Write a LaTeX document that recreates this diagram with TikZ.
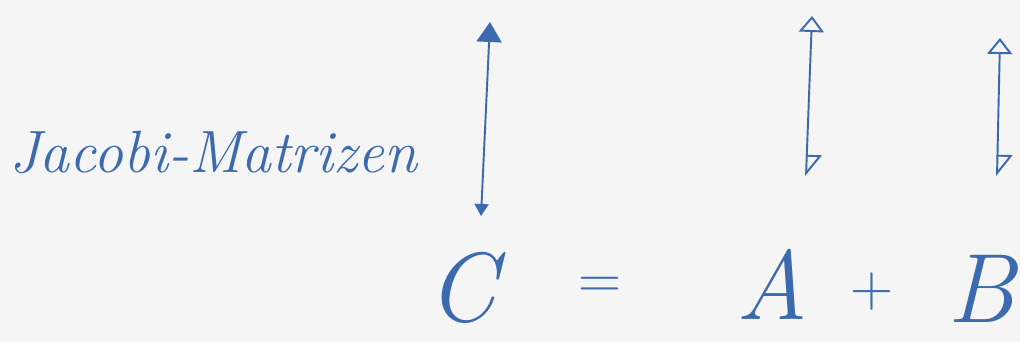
\documentclass[tikz,border=0pt]{standalone}
\usepackage{tikz}
\usetikzlibrary{arrows.meta,positioning}
\definecolor{ink}{HTML}{3C6AAE}
\definecolor{paper}{HTML}{F5F5F6}
\tikzset{
  inklabel/.style={text=ink,inner sep=0pt,font=\itshape\fontsize{34}{38}\selectfont},
  termnode/.style={text=ink,inner sep=0pt,font=\itshape\fontsize{56}{60}\selectfont},
  opnode/.style={text=ink,inner sep=0pt,font=\fontsize{34}{38}\selectfont},
  jacobiarrow/.style={draw=ink,line width=1.1pt},
  opentip/.tip={Triangle[open,length=3.2mm,width=5mm,line width=1.1pt]},
  halftip/.tip={Triangle[open,left,length=4mm,width=6mm,line width=1.1pt]}
}
\begin{document}
\begin{tikzpicture}[x=0.02cm,y=-0.02cm]
\path[use as bounding box,fill=paper] (0,0) rectangle (1020,342);
\node[inklabel] (jm) at (213,152) {Jacobi-Matrizen};

\coordinate (ctop) at (490,22);
\coordinate (cbot) at (481,216);
\coordinate (atop) at (812,16);
\coordinate (abot) at (806,176);
\coordinate (btop) at (1000,38);
\coordinate (bbot) at (997,176);
\draw[jacobiarrow,{Triangle[length=4mm,width=5mm]}-{Triangle[length=2.4mm,width=2.8mm]}] (ctop) -- (cbot);
\draw[jacobiarrow,{halftip}-{opentip}] (abot) -- (atop);
\draw[jacobiarrow,{halftip}-{opentip}] (bbot) -- (btop);

\node[termnode,anchor=base] (cterm) at (462,321) {C};
\node[opnode] (eqsign) at (600,288) {=};
\node[termnode,anchor=base] (aterm) at (772,319) {A};
\node[opnode] (plusign) at (872,292) {+};
\node[termnode,anchor=base east] (bterm) at (1016,322) {B};
\end{tikzpicture}
\end{document}
